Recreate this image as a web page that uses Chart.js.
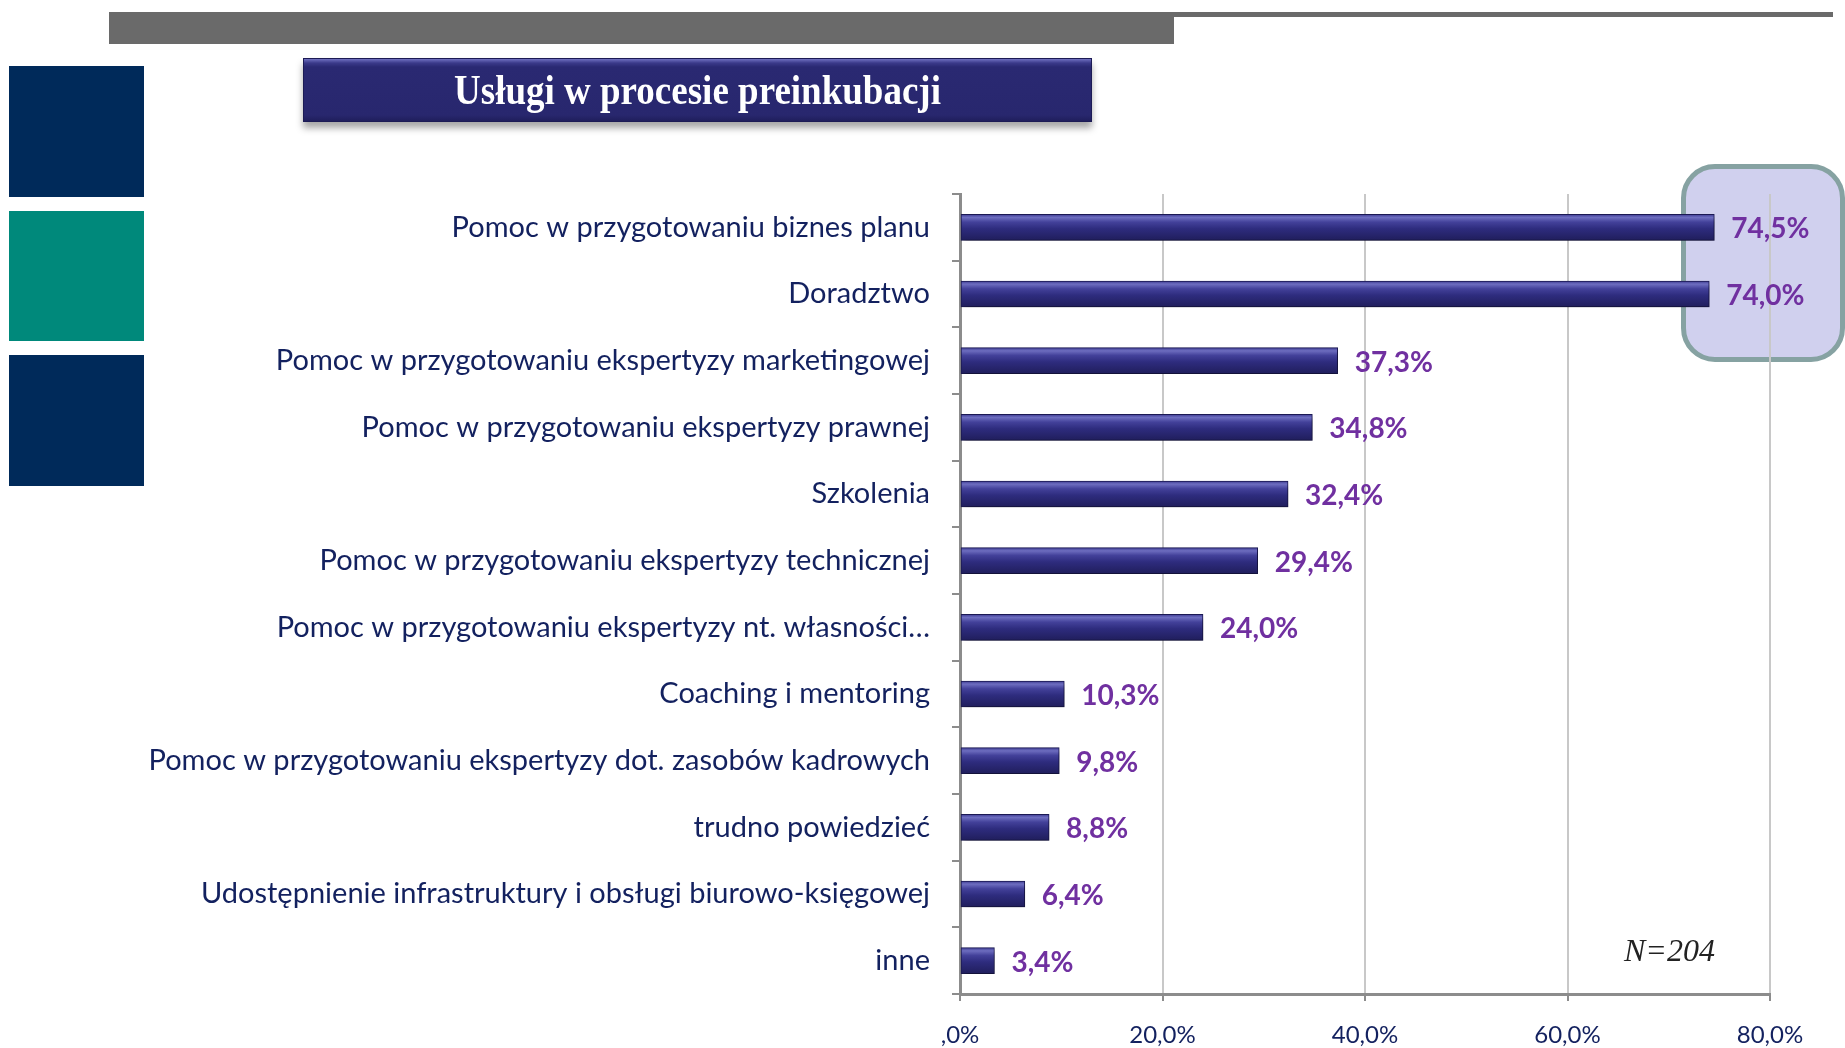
<!DOCTYPE html>
<html lang="pl">
<head>
<meta charset="utf-8">
<title>Usługi w procesie preinkubacji</title>
<script src="https://cdn.jsdelivr.net/npm/chart.js@4.4.0/dist/chart.umd.min.js"></script>
<style>
  html, body { margin: 0; padding: 0; background: #fff; }
  body { width: 1845px; height: 1048px; position: relative; overflow: hidden; }
  .blk { position: absolute; }
  #chartWrap { position: absolute; left: 0; top: 0; width: 1845px; height: 1048px; z-index: 2; }
  #highlight {
    position: absolute; left: 1681px; top: 164px; width: 154px; height: 188px;
    background: #d0d0ee; border: 5px solid #86a2a2; border-radius: 34px; z-index: 1;
  }
  #titleBox {
    position: absolute; left: 303px; top: 58px; width: 789px; height: 64px;
    background: linear-gradient(#7070c0 0px, #3b3a8a 4px, #2a2972 8px, #28276e 56px, #1d1c56 64px);
    box-shadow: 0 6px 7px rgba(0,0,0,0.35);
    border: 1px solid #1c1b55; box-sizing: border-box;
    color: #fff; font: bold 37px "Liberation Serif", "Times New Roman", serif;
    text-align: center; line-height: 64px; z-index: 3;
  }
  #titleBox span { display: inline-block; transform: scaleY(1.12); }
  #nLabel {
    position: absolute; left: 1624px; top: 932px; font: italic 32px "Liberation Serif", serif;
    color: #222; z-index: 3;
  }
</style>
</head>
<body>
<div class="blk" style="left:109px;top:12px;width:1065px;height:32px;background:#6a6a6a"></div>
<div class="blk" style="left:1174px;top:12px;width:659px;height:5px;background:#6a6a6a"></div>
<div class="blk" style="left:9px;top:66px;width:135px;height:131px;background:#002a5a"></div>
<div class="blk" style="left:9px;top:211px;width:135px;height:130px;background:#00897b"></div>
<div class="blk" style="left:9px;top:355px;width:135px;height:131px;background:#002a5a"></div>
<div id="titleBox"><span>Usługi w procesie preinkubacji</span></div>
<div id="highlight"></div>
<div id="nLabel">N=204</div>
<div id="chartWrap"><canvas id="uslugiChart"></canvas></div>
<script>
// Kategorie i wartości (%)
const kategorie = [
  "Pomoc w przygotowaniu biznes planu",
  "Doradztwo",
  "Pomoc w przygotowaniu ekspertyzy marketingowej",
  "Pomoc w przygotowaniu ekspertyzy prawnej",
  "Szkolenia",
  "Pomoc w przygotowaniu ekspertyzy technicznej",
  "Pomoc w przygotowaniu ekspertyzy nt. własności…",
  "Coaching i mentoring",
  "Pomoc w przygotowaniu ekspertyzy dot. zasobów kadrowych",
  "trudno powiedzieć",
  "Udostępnienie infrastruktury i obsługi biurowo-księgowej",
  "inne"
];
const wartosci = [74.5, 74.0, 37.3, 34.8, 32.4, 29.4, 24.0, 10.3, 9.8, 8.8, 6.4, 3.4];
const ticksX = [0, 20, 40, 60, 80];

const granat = "#13215f";
const fiolet = "#7030a0";

function formatProcent(v) {
  if (v === 0) return ",0%";
  return v.toFixed(1).replace(".", ",") + "%";
}

// Gradient dla każdego słupka (efekt 3D)
function gradientSlupka(context) {
  const chart = context.chart;
  const y = chart.scales.y;
  if (!y || context.dataIndex === undefined) return "#2c2a7a";
  const c = y.getPixelForValue(context.dataIndex);
  if (!isFinite(c)) return "#2c2a7a";
  const g = chart.ctx.createLinearGradient(0, c - 13, 0, c + 13);
  g.addColorStop(0, "#3e3c92");
  g.addColorStop(0.12, "#6d6dbf");
  g.addColorStop(0.3, "#43419a");
  g.addColorStop(0.55, "#2e2c7e");
  g.addColorStop(1, "#201e5c");
  return g;
}

const cieniePlugin = {
  id: "cienie",
  beforeDatasetsDraw(chart) {
    const ctx = chart.ctx;
    ctx.save();
    ctx.shadowColor = "rgba(0,0,0,0.38)";
    ctx.shadowBlur = 6;
    ctx.shadowOffsetX = 2;
    ctx.shadowOffsetY = 4;
  },
  afterDatasetsDraw(chart) {
    const ctx = chart.ctx;
    ctx.restore();
    // Etykiety wartości
    const meta = chart.getDatasetMeta(0);
    ctx.save();
    ctx.font = "bold 28px Lato";
    ctx.fillStyle = fiolet;
    ctx.textAlign = "left";
    ctx.textBaseline = "middle";
    meta.data.forEach((bar, i) => {
      ctx.fillText(formatProcent(wartosci[i]), bar.x + 17, bar.y + 2);
    });
    ctx.restore();
  }
};

const ctx = document.getElementById("uslugiChart").getContext("2d");
new Chart(ctx, {
  type: "bar",
  data: {
    labels: kategorie,
    datasets: [{
      data: wartosci,
      backgroundColor: gradientSlupka,
      borderColor: "#1c1a55",
      borderWidth: 1,
      borderSkipped: false,
      barThickness: 26
    }]
  },
  options: {
    indexAxis: "y",
    responsive: true,
    maintainAspectRatio: false,
    animation: false,
    layout: { padding: { top: 194, right: 75, bottom: 0, left: 0 } },
    plugins: {
      legend: { display: false },
      tooltip: { enabled: false }
    },
    scales: {
      x: {
        min: 0,
        max: 80,
        afterBuildTicks: (scale) => { scale.ticks = ticksX.map(v => ({ value: v })); },
        afterFit: (scale) => { scale.height = 54; },
        ticks: {
          callback: (v) => formatProcent(v),
          color: granat,
          font: { family: "Lato", size: 24 },
          padding: 20,
          maxRotation: 0
        },
        grid: { color: "#c8c8c8", lineWidth: 2, tickLength: 7, tickColor: "#8c8c8c" },
        border: { color: "#8c8c8c", width: 3 }
      },
      y: {
        afterFit: (scale) => { scale.width = 960; },
        ticks: {
          color: granat,
          font: { family: "Lato", size: 29 },
          padding: 22,
          autoSkip: false
        },
        grid: { drawOnChartArea: false, tickLength: 8, color: "#8c8c8c", lineWidth: 2, offset: true },
        border: { color: "#8c8c8c", width: 3 }
      }
    }
  },
  plugins: [cieniePlugin]
});
</script>
</body>
</html>
